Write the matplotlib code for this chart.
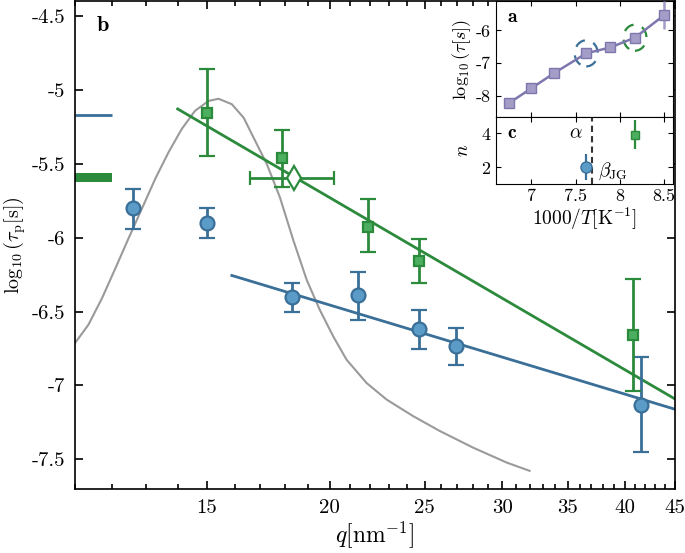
import numpy as np
import matplotlib
matplotlib.use("Agg")
import matplotlib.pyplot as plt
from matplotlib.patches import Ellipse
from matplotlib.ticker import FixedLocator, FixedFormatter, NullFormatter

plt.rcParams["font.family"] = "serif"
plt.rcParams["font.serif"] = ["cmr10", "DejaVu Serif"]
plt.rcParams["mathtext.fontset"] = "cm"
plt.rcParams["axes.unicode_minus"] = False
plt.rcParams["axes.formatter.use_mathtext"] = True

BLUE_EDGE = "#3a6f98"
BLUE_FACE = "#5b9bc8"
GREEN_EDGE = "#2b8a3c"
GREEN_FACE = "#4caf5f"
GRAY = "#9a9a9a"
PURPLE = "#7d77ad"
PURPLE_FACE = "#a39dc8"

# ---- main panel b data ----
q_blue = [12.6, 15.0, 18.3, 21.4, 24.7, 26.9, 41.6]
y_blue = [-5.80, -5.90, -6.40, -6.39, -6.62, -6.73, -7.135]
err_blue_lo = [-5.94, -6.005, -6.50, -6.56, -6.75, -6.86, -7.45]
err_blue_hi = [-5.67, -5.80, -6.31, -6.23, -6.49, -6.61, -6.81]

q_green = [15.0, 17.9, 21.9, 24.7, 40.8]
y_green = [-5.157, -5.46, -5.93, -6.16, -6.66]
err_green_lo = [-5.45, -5.66, -6.10, -6.31, -7.04]
err_green_hi = [-4.86, -5.27, -5.74, -6.01, -6.28]

q_diamond = 18.4
y_diamond = -5.595
q_diamond_lo = 16.6
q_diamond_hi = 20.2

# power-law fits (straight in log q)
fit_green_q = [14.0, 45.0]
fit_green_y = [-5.13, -7.09]
fit_blue_q = [15.9, 45.0]
fit_blue_y = [-6.256, -7.16]

# gray structure-factor curve (rescaled)
q_gray = [11.0, 11.35, 11.72, 12.09, 12.47, 12.87, 13.28, 13.70, 14.13, 14.58,
          15.05, 15.41, 15.9, 16.35, 16.75, 17.26, 17.80, 18.37, 18.96, 19.55,
          20.18, 20.82, 21.82, 22.87, 24.34, 25.92, 28.02, 30.32, 32.0]
y_gray = [-6.713, -6.59, -6.41, -6.21, -6.007, -5.805, -5.603, -5.424, -5.267, -5.143,
          -5.076, -5.061, -5.098, -5.19, -5.33, -5.502, -5.727, -6.018, -6.287, -6.489,
          -6.669, -6.826, -6.983, -7.095, -7.207, -7.308, -7.42, -7.521, -7.577]

# level marks at the left edge
q_level = [11.0, 12.0]
y_level_blue = -5.17
y_level_green_lo = -5.627
y_level_green_hi = -5.565

x_major = [15, 20, 25, 30, 35, 40, 45]
x_minor = [11, 12, 13, 14, 16, 17, 18, 19, 21, 22, 23, 24, 26, 27, 28, 29,
           31, 32, 33, 34, 36, 37, 38, 39, 41, 42, 43, 44]
y_ticks = [-4.5, -5, -5.5, -6, -6.5, -7, -7.5]
y_labels = ["-4.5", "-5", "-5.5", "-6", "-6.5", "-7", "-7.5"]

# ---- inset panel a data ----
invT_a = [6.75, 7.0, 7.26, 7.62, 7.89, 8.17, 8.5]
logtau_a = [-8.22, -7.77, -7.3, -6.7, -6.52, -6.22, -5.53]
logtau_a_err = [0.05, 0.05, 0.05, 0.05, 0.05, 0.05, 0.42]

# ---- inset panel c data ----
invT_c_blue = 7.62
n_blue = 2.0
n_blue_err = 0.75
invT_c_green = 8.17
n_green = 3.9
n_green_err = 0.85
invT_cross = 7.69

fig = plt.figure(figsize=(6.85, 5.53), dpi=100)
ax = fig.add_axes([0.1095, 0.1157, 0.8755, 0.8825])

ax.plot(q_gray, y_gray, color=GRAY, lw=1.5, zorder=1)

ax.plot(q_level, [y_level_blue, y_level_blue], color=BLUE_EDGE, lw=2, solid_capstyle="butt")
ax.fill_between(q_level, y_level_green_lo, y_level_green_hi, color=GREEN_EDGE, lw=0)

ax.plot(fit_green_q, fit_green_y, color=GREEN_EDGE, lw=2, zorder=2)
ax.plot(fit_blue_q, fit_blue_y, color=BLUE_EDGE, lw=2, zorder=2)

yb = np.array(y_blue)
ax.errorbar(q_blue, y_blue,
            yerr=[yb - np.array(err_blue_lo), np.array(err_blue_hi) - yb],
            fmt="o", ms=10, mfc=BLUE_FACE, mec=BLUE_EDGE, mew=1.6,
            ecolor=BLUE_EDGE, elinewidth=2, capsize=6, capthick=2, zorder=4)

yg = np.array(y_green)
ax.errorbar(q_green, y_green,
            yerr=[yg - np.array(err_green_lo), np.array(err_green_hi) - yg],
            fmt="s", ms=7, mfc=GREEN_FACE, mec=GREEN_EDGE, mew=1.6,
            ecolor=GREEN_EDGE, elinewidth=2, capsize=6, capthick=2, zorder=4)

ax.errorbar([q_diamond], [y_diamond],
            xerr=[[q_diamond - q_diamond_lo], [q_diamond_hi - q_diamond]],
            fmt="d", ms=12, mfc="white", mec=GREEN_EDGE, mew=1.6,
            ecolor=GREEN_EDGE, elinewidth=2, capsize=5, capthick=2, zorder=5)

ax.set_xscale("log")
ax.set_xlim(11, 45)
ax.set_ylim(-7.7, -4.4)
ax.xaxis.set_major_locator(FixedLocator(x_major))
ax.xaxis.set_major_formatter(FixedFormatter([str(v) for v in x_major]))
ax.xaxis.set_minor_locator(FixedLocator(x_minor))
ax.xaxis.set_minor_formatter(NullFormatter())
ax.yaxis.set_major_locator(FixedLocator(y_ticks))
ax.yaxis.set_major_formatter(FixedFormatter(y_labels))
ax.tick_params(which="both", direction="in", top=True, right=True, labelsize=15, width=1.2)
ax.tick_params(which="major", length=6, pad=7)
ax.tick_params(which="minor", length=3.5)
for s in ax.spines.values():
    s.set_linewidth(1.2)
ax.set_xlabel(r"$q[{\rm nm}^{-1}]$", fontsize=17, labelpad=2)
ax.set_ylabel(r"$\log_{10}(\tau_{\rm p}[{\rm s}])$", fontsize=14.5)
ax.yaxis.set_label_coords(-0.078, 0.5)
ax.text(0.035, 0.97, r"$\mathbf{b}$", transform=ax.transAxes, fontsize=16, va="top")

# ---- inset a ----
axa = fig.add_axes([0.724, 0.7884, 0.2585, 0.2096])
axa.plot(invT_a, logtau_a, color=PURPLE, lw=1.8, zorder=2)
axa.errorbar(invT_a, logtau_a, yerr=logtau_a_err, fmt="s", ms=7,
             mfc=PURPLE_FACE, mec=PURPLE, mew=1, ecolor=PURPLE_FACE, elinewidth=1.8,
             capsize=0, zorder=3)
axa.add_patch(Ellipse((invT_a[3], logtau_a[3]), 0.26, 0.8, fill=False,
                      ec=BLUE_EDGE, lw=1.6, ls=(0, (5, 4))))
axa.add_patch(Ellipse((invT_a[5], logtau_a[5]), 0.26, 0.8, fill=False,
                      ec=GREEN_EDGE, lw=1.6, ls=(0, (5, 4))))
axa.set_xlim(6.6, 8.6)
axa.set_ylim(-8.65, -5.1)
axa.set_xticks([7, 7.5, 8, 8.5])
axa.set_yticks([-6, -7, -8])
axa.set_yticklabels(["-6", "-7", "-8"])
axa.tick_params(direction="in", top=True, right=True, labelbottom=False, labelsize=13, length=3.5)
axa.set_ylabel(r"$\log_{10}(\tau[s])$", fontsize=13, labelpad=2)
axa.text(0.06, 0.94, r"$\mathbf{a}$", transform=axa.transAxes, fontsize=14, va="top")

# ---- inset c ----
axc = fig.add_axes([0.724, 0.667, 0.2585, 0.1214], sharex=axa)
axc.axvline(invT_cross, color="#333333", lw=1.5, ls=(0, (3, 2)))
axc.errorbar([invT_c_blue], [n_blue], yerr=[n_blue_err], fmt="o", ms=8,
             mfc=BLUE_FACE, mec=BLUE_EDGE, mew=1, ecolor=BLUE_EDGE, elinewidth=1.6, capsize=0)
axc.errorbar([invT_c_green], [n_green], yerr=[n_green_err], fmt="s", ms=6,
             mfc=GREEN_FACE, mec=GREEN_EDGE, mew=1, ecolor=GREEN_EDGE, elinewidth=1.6, capsize=0)
axc.set_ylim(1.0, 4.95)
axc.set_yticks([2, 4])
axc.set_xticks([7, 7.5, 8, 8.5])
axc.set_xticklabels(["7", "7.5", "8", "8.5"])
axc.tick_params(direction="in", top=True, right=True, labelsize=13, length=3.5)
axc.set_ylabel(r"$n$", fontsize=14, labelpad=6)
axc.set_xlabel(r"$1000/T[{\rm K}^{-1}]$", fontsize=14, labelpad=1)
axc.text(0.06, 0.9, r"$\mathbf{c}$", transform=axc.transAxes, fontsize=14, va="top")
axc.text(7.58, 4.0, r"$\alpha$", fontsize=14, ha="right", va="center")
axc.text(7.75, 1.75, r"$\beta_{\rm JG}$", fontsize=14, ha="left", va="center")

fig.savefig("out.png", dpi=100)
